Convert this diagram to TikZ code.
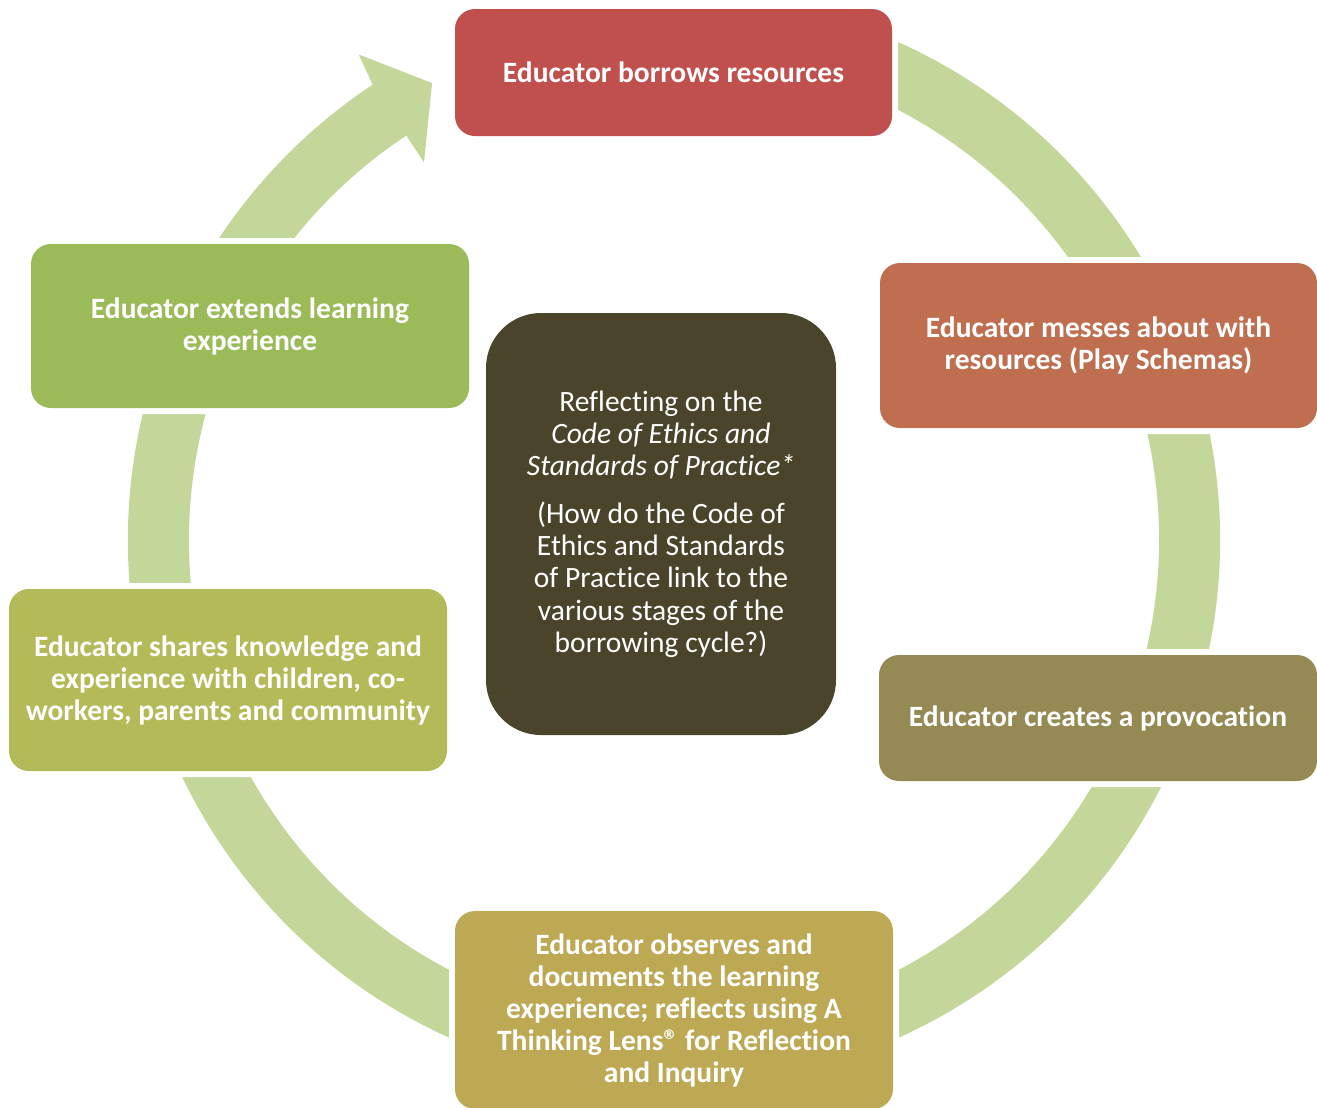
\documentclass[tikz,border=0pt]{standalone}
\usepackage{fontspec}
\setmainfont{Carlito}[Ligatures=NoCommon]
\definecolor{ringc}{HTML}{C4D79B}
\definecolor{cred}{HTML}{C0504D}
\definecolor{cmess}{HTML}{BF6E4F}
\definecolor{cprov}{HTML}{958A54}
\definecolor{cobs}{HTML}{BDA853}
\definecolor{cshare}{HTML}{B5BA58}
\definecolor{cext}{HTML}{9BBB59}
\definecolor{cctr}{HTML}{4A442B}
\begin{document}
\begin{tikzpicture}[x=0.02cm,y=0.02cm,
  stage/.style={rounded corners=0.4cm, inner sep=0pt, text=white, align=center,
    font=\fontsize{16.8}{18.2}\selectfont\bfseries,
    preaction={draw=white, line width=0.24cm}},
  centre/.style={rounded corners=1.1cm, inner sep=0pt, text=white, align=center,
    font=\fontsize{16.8}{18.3}\selectfont, fill=cctr}]
\useasboundingbox (0,0) rectangle (1317,-1107);
\coordinate (C) at (674,-540);
% ring arrow
\fill[ringc] ([shift={(C)}]72:546) arc[start angle=72, end angle=-237, radius=546]
  -- ([shift={(C)}]-237:485) arc[start angle=-237, end angle=72, radius=485] -- cycle;
\fill[ringc] ([shift={(C)}]123.5:546) -- ([shift={(C)}]123:579) -- ([shift={(C)}]117.9:517)
  -- ([shift={(C)}]123.5:453) -- ([shift={(C)}]123.5:485) -- cycle;
% stages
\node[stage, fill=cred, minimum width=437*0.02cm, minimum height=127*0.02cm] (borrow) at (673.5,-72.5)
  {Educator borrows resources};
\node[stage, fill=cmess, minimum width=437*0.02cm, minimum height=165*0.02cm] (mess) at (1098.5,-345.5)
  {Educator messes about with\\resources (Play Schemas)};
\node[stage, fill=cprov, minimum width=438*0.02cm, minimum height=126*0.02cm] (prov) at (1098,-718)
  {Educator creates a provocation};
\node[stage, fill=cobs, minimum width=438*0.02cm, minimum height=198*0.02cm] (obs) at (674,-1010)
  {Educator observes and\\documents the learning\\experience; reflects using A\\Thinking Lens® for Reflection\\and Inquiry};
\node[stage, fill=cshare, minimum width=438*0.02cm, minimum height=182*0.02cm] (share) at (228,-680)
  {Educator shares knowledge and\\experience with children, co-\\workers, parents and community};
\node[stage, fill=cext, minimum width=438*0.02cm, minimum height=164*0.02cm] (ext) at (250,-326)
  {Educator extends learning\\experience};
\node[centre, minimum width=350*0.02cm, minimum height=422*0.02cm] (ctr) at (661,-524)
  {Reflecting on the\\\textit{Code of Ethics and}\\\textit{Standards of Practice*}\\[9pt]
   (How do the Code of\\Ethics and Standards\\of Practice link to the\\various stages of the\\borrowing cycle?)};
\end{tikzpicture}
\end{document}
